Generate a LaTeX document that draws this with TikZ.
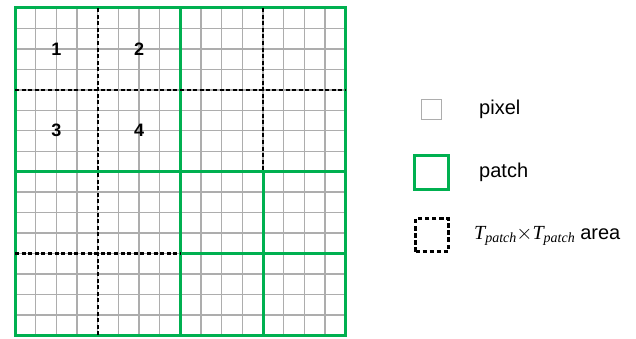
\documentclass[tikz,border=0pt]{standalone}
\usepackage{fontspec}
\setmainfont{Liberation Sans}
\newfontfamily\serifit{Liberation Serif}[ItalicFont=* Italic]
\usetikzlibrary{positioning}
\definecolor{patchgreen}{HTML}{00B050}
\definecolor{pixgrey}{HTML}{ADADAD}
\newcommand{\Tsub}{{\serifit\itshape T\raisebox{-0.35ex}{\fontsize{14}{14}\selectfont patch}}}
\begin{document}
\begin{tikzpicture}[
  x=1pt,y=-1pt,
  font=\fontsize{20}{24}\selectfont,
  pix/.style={draw=pixgrey,line width=1.4pt},
  patchline/.style={draw=patchgreen,line width=3pt},
  area/.style={draw=black,line width=2.3pt,dash pattern=on 4pt off 2.6pt},
  num/.style={font=\fontsize{18}{20}\selectfont\bfseries},
  legbox/.style={minimum size=#1,inner sep=0pt},
  legtext/.style={anchor=west,inner sep=0pt},
]
\useasboundingbox (0,0) rectangle (636,339);
% pixel grid, 16 x 16
\begin{scope}[shift={(15,8)},x=20.67pt,y=-20.46pt]
  \foreach \i in {1,...,15} {
    \draw[pix] (\i,0) -- (\i,16);
    \draw[pix] (0,\i) -- (16,\i);
  }
  % patches
  \draw[patchline] (0,0) rectangle (16,16);
  \draw[patchline] (8,0) -- (8,16);
  \draw[patchline] (0,8) -- (16,8);
  \draw[patchline] (12,8) -- (12,16);
  \draw[patchline] (8,12) -- (16,12);
  % T_patch x T_patch areas
  \draw[area] (4,0) -- (4,16);
  \draw[area] (12,0) -- (12,8);
  \draw[area] (0,4) -- (16,4);
  \draw[area] (0,12) -- (8,12);
  % area numbers
  \node[num] (n1) at (2,2) {1};
  \node[num] (n2) at (6,2) {2};
  \node[num] (n3) at (2,6) {3};
  \node[num] (n4) at (6,6) {4};
\end{scope}
% legend
\node[legbox=20pt,draw=pixgrey,line width=1.4pt] (legpix) at (431.5,109.5) {};
\node[legbox=34pt,draw=patchgreen,line width=3pt] (legpatch) at (431.5,172.5) {};
\node[legbox=33pt,area,line width=2.6pt,dash pattern=on 4.5pt off 2.6pt] (legarea) at (432,235) {};
\node[legtext] (txtpix) at (479,109.5) {pixel};
\node[legtext] (txtpatch) at (479,172.5) {patch};
\node[legtext] (txtarea) at (474,236) {\Tsub$\times$\Tsub\ area};
\end{tikzpicture}
\end{document}
